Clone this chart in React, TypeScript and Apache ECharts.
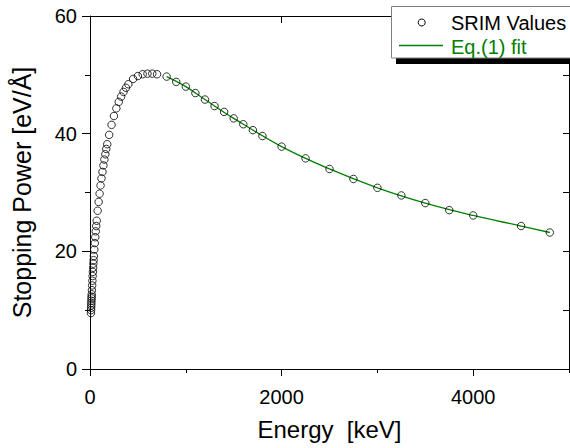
import React, { useEffect, useRef } from "react";
import * as echarts from "echarts";

const energy = [
  10, 11, 12, 13, 14, 15, 16, 17, 18,
  20, 22.5, 25, 27.5, 30, 32.5, 35, 37.5, 40,
  45, 50, 55, 60, 65, 70,
  80, 90, 100, 110, 120, 130, 140, 150, 160, 170, 180,
  200, 225, 250, 275, 300, 325, 350, 375, 400,
  450, 500, 550, 600, 650, 700,
  800, 900, 1000, 1100, 1200, 1300, 1400, 1500, 1600, 1700, 1800,
  2000, 2250, 2500, 2750, 3000, 3250, 3500, 3750, 4000,
  4500, 4800,
];
const srimValues = [
  9.5, 10.0, 10.4, 10.8, 11.2, 11.6, 12.0, 12.3, 12.7,
  13.4, 14.2, 15.0, 15.8, 16.5, 17.2, 17.9, 18.5, 19.2,
  20.3, 21.4, 22.4, 23.4, 24.3, 25.2,
  26.9, 28.4, 29.8, 31.2, 32.4, 33.5, 34.6, 35.6, 36.5, 37.4, 38.2,
  39.8, 41.5, 43.0, 44.3, 45.4, 46.3, 47.1, 47.8, 48.4,
  49.3, 49.8, 50.1, 50.2, 50.2, 50.1,
  49.7, 48.8, 48.0, 46.9, 45.8, 44.7, 43.7, 42.6, 41.6, 40.6, 39.6,
  37.8, 35.8, 34.0, 32.3, 30.8, 29.5, 28.2, 27.0, 26.1,
  24.3, 23.2,
];
const fitEnergy = [800, 1000, 1200, 1500, 2000, 2500, 3000, 3500, 4000, 4500, 4800];
const fitValues = [49.7, 48.0, 45.8, 42.6, 37.8, 34.0, 30.8, 28.2, 26.1, 24.3, 23.2];

const xMajorTicks = [0, 2000, 4000];
const xMinorTicks = [1000, 3000, 5000];
const yMajorTicks = [0, 20, 40, 60];
const yMinorTicks = [10, 30, 50];
const yRightTicks = [10, 20, 30, 40, 50];

const FONT = "Arial, 'Liberation Sans', sans-serif";
const GREEN = "#008000";

export default function App() {
  const ref = useRef<HTMLDivElement>(null);
  useEffect(() => {
    if (!ref.current) return;
    const chart = echarts.init(ref.current, null, { renderer: "svg" });
    const baseX = { type: "value", min: 0, max: 5000, gridIndex: 0 };
    const baseY = { type: "value", min: 0, max: 60, gridIndex: 0 };
    const lineStyle = { color: "#000", width: 1 };
    const plain = (v: number) => String(v);
    const option: any = {
      animation: false,
      backgroundColor: "#fff",
      grid: { left: 90, top: 16, right: 1, bottom: 79 },
      xAxis: [
        {
          ...baseX,
          position: "bottom",
          name: "Energy  [keV]",
          nameLocation: "middle",
          nameGap: 48,
          nameTextStyle: { fontFamily: FONT, fontSize: 24, color: "#000" },
          axisLine: { show: true, lineStyle },
          axisTick: { show: true, inside: false, length: 7, lineStyle, customValues: xMajorTicks },
          axisLabel: { show: true, customValues: xMajorTicks, formatter: plain, margin: 18, fontFamily: FONT, fontSize: 20, color: "#000" },
          splitLine: { show: false },
        },
        {
          ...baseX,
          position: "bottom",
          axisLine: { show: false },
          axisTick: { show: true, inside: false, length: 4, lineStyle, customValues: xMinorTicks },
          axisLabel: { show: false },
          splitLine: { show: false },
        },
        {
          ...baseX,
          position: "top",
          axisLine: { show: true, onZero: false, lineStyle },
          axisTick: { show: true, inside: true, length: 7, lineStyle, customValues: [2000, 4000] },
          axisLabel: { show: false },
          splitLine: { show: false },
        },
        {
          ...baseX,
          position: "top",
          axisLine: { show: false },
          axisTick: { show: true, inside: true, length: 4, lineStyle, customValues: [1000, 3000] },
          axisLabel: { show: false },
          splitLine: { show: false },
        },
      ],
      yAxis: [
        {
          ...baseY,
          position: "left",
          name: "Stopping Power [eV/Å]",
          nameLocation: "middle",
          nameGap: 56,
          nameTextStyle: { fontFamily: FONT, fontSize: 25, color: "#000" },
          axisLine: { show: true, onZero: false, lineStyle },
          axisTick: { show: true, inside: false, length: 8, lineStyle, customValues: yMajorTicks },
          axisLabel: { show: true, customValues: yMajorTicks, formatter: plain, margin: 13, fontFamily: FONT, fontSize: 20, color: "#000" },
          splitLine: { show: false },
        },
        {
          ...baseY,
          position: "left",
          axisLine: { show: false },
          axisTick: { show: true, inside: false, length: 5, lineStyle, customValues: yMinorTicks },
          axisLabel: { show: false },
          splitLine: { show: false },
        },
        {
          ...baseY,
          position: "right",
          axisLine: { show: true, onZero: false, lineStyle },
          axisTick: { show: true, inside: true, length: 6, lineStyle, customValues: yRightTicks },
          axisLabel: { show: false },
          splitLine: { show: false },
        },
      ],
      series: [
        {
          name: "Eq.(1) fit",
          type: "line",
          xAxisIndex: 0,
          yAxisIndex: 0,
          data: fitEnergy.map((e, i) => [e, fitValues[i]]),
          smooth: 0.4,
          showSymbol: false,
          symbol: "none",
          lineStyle: { color: GREEN, width: 1.3 },
          z: 2,
        },
        {
          name: "SRIM Values",
          type: "scatter",
          xAxisIndex: 0,
          yAxisIndex: 0,
          data: energy.map((e, i) => [e, srimValues[i]]),
          symbol: "circle",
          symbolSize: 7.5,
          itemStyle: { color: "rgba(0,0,0,0)", borderColor: "#000", borderWidth: 1 },
          z: 3,
        },
      ],
      graphic: [
        { type: "rect", z: 100, shape: { x: 396, y: 58, width: 180, height: 6 }, style: { fill: "#000" } },
        { type: "rect", z: 101, shape: { x: 391.5, y: 6.5, width: 185, height: 51.5 }, style: { fill: "#fff", stroke: "#808080", lineWidth: 1 } },
        { type: "circle", z: 102, shape: { cx: 421.7, cy: 22.5, r: 3.5 }, style: { fill: "none", stroke: "#000", lineWidth: 1 } },
        { type: "line", z: 102, shape: { x1: 399, y1: 45.5, x2: 443, y2: 45.5 }, style: { stroke: GREEN, lineWidth: 1.3 } },
        { type: "text", z: 102, x: 451, y: 22.5, style: { text: "SRIM Values", fill: "#000", font: `20px ${FONT}`, verticalAlign: "middle", align: "left" } },
        { type: "text", z: 102, x: 451, y: 46.5, style: { text: "Eq.(1) fit", fill: GREEN, font: `20px ${FONT}`, verticalAlign: "middle", align: "left" } },
      ],
    };
    chart.setOption(option);
    return () => chart.dispose();
  }, []);
  return (
    <div
      ref={ref}
      style={{ position: "fixed", left: 0, top: 0, width: 570, height: 448, background: "#fff" }}
    />
  );
}
